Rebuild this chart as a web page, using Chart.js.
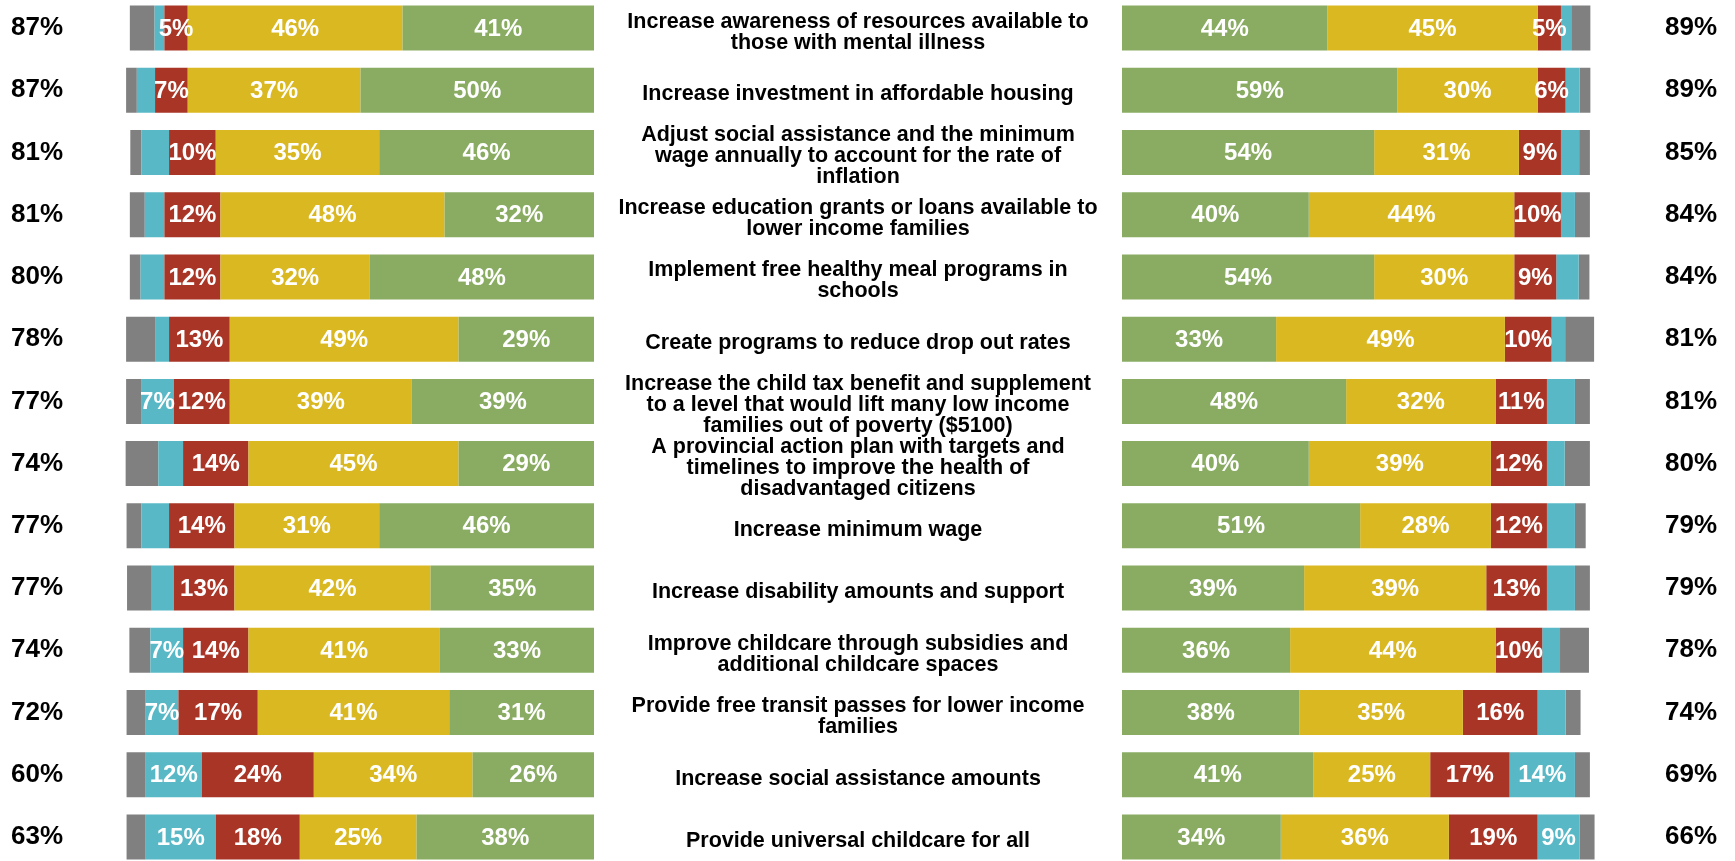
<!DOCTYPE html>
<html>
<head>
<meta charset="utf-8">
<title>Support for poverty reduction measures</title>
<script src="https://cdn.jsdelivr.net/npm/chart.js@4.4.1/dist/chart.umd.min.js"></script>
<style>
  html, body { margin: 0; padding: 0; background: #fff; overflow: hidden; }
  #wrap { position: relative; width: 1735px; height: 861px; }
  .panel { position: absolute; top: -3px; height: 871px; }
  #left-panel { left: 0; width: 600px; }
  #right-panel { left: 594px; width: 1141px; }
</style>
</head>
<body>
<div id="wrap">
  <div class="panel" id="left-panel"><canvas id="leftChart"></canvas></div>
  <div class="panel" id="right-panel"><canvas id="rightChart"></canvas></div>
</div>
<script>
const categories = [
  ["Increase awareness of resources available to", "those with mental illness"],
  ["Increase investment in affordable housing"],
  ["Adjust social assistance and the minimum", "wage annually to account for the rate of", "inflation"],
  ["Increase education grants or loans available to", "lower income families"],
  ["Implement free healthy meal programs in", "schools"],
  ["Create programs to reduce drop out rates"],
  ["Increase the child tax benefit and supplement", "to a level that would lift many low income", "families out of poverty ($5100)"],
  ["A provincial action plan with targets and", "timelines to improve the health of", "disadvantaged citizens"],
  ["Increase minimum wage"],
  ["Increase disability amounts and support"],
  ["Improve childcare through subsidies and", "additional childcare spaces"],
  ["Provide free transit passes for lower income", "families"],
  ["Increase social assistance amounts"],
  ["Provide universal childcare for all"]
];

// total support shown beside each bar
const leftTotals  = [87, 87, 81, 81, 80, 78, 77, 74, 77, 77, 74, 72, 60, 63];
const rightTotals = [89, 89, 85, 84, 84, 81, 81, 80, 79, 79, 78, 74, 69, 66];

// left panel, stacked outward from the centre
const leftStrong   = [41, 50, 46, 32, 48, 29, 39, 29, 46, 35, 33, 31, 26, 38];
const leftSomewhat = [46, 37, 35, 48, 32, 49, 39, 45, 31, 42, 41, 41, 34, 25];
const leftSomeOpp  = [5, 7, 10, 12, 12, 13, 12, 14, 14, 13, 14, 17, 24, 18];
const leftStrOpp   = [2.1, 3.9, 5.9, 4.2, 5.1, 3, 7, 5.3, 5.9, 4.7, 7, 7, 12, 15];
const leftDontKnow = [5.3, 2.3, 2.4, 3.2, 2.3, 6.2, 3.2, 7, 3.2, 5.3, 4.5, 4.1, 4.1, 4.1];

// right panel
const rightStrong   = [44, 59, 54, 40, 54, 33, 48, 40, 51, 39, 36, 38, 41, 34];
const rightSomewhat = [45, 30, 31, 44, 30, 49, 32, 39, 28, 39, 44, 35, 25, 36];
const rightSomeOpp  = [5, 6, 9, 10, 9, 10, 11, 12, 12, 13, 10, 16, 17, 19];
const rightStrOpp   = [2.2, 3, 3.9, 3, 4.8, 2.9, 6, 3.8, 6, 6, 3.8, 6, 14, 9];
const rightDontKnow = [4.1, 2.3, 2.3, 3.2, 2.3, 6.2, 3.2, 5.4, 2.3, 3.2, 6.2, 3.2, 3.2, 3.2];

const COLORS = {
  strong: "#89ac62",
  somewhat: "#dab822",
  someOpp: "#a93527",
  strOpp: "#59b8c6",
  dontKnow: "#808080"
};

const FONT = '"Liberation Sans", Arial, Helvetica, sans-serif';
Chart.defaults.font.family = FONT;
Chart.defaults.color = "#000";

function makeDatasets(strong, somewhat, someOpp, strOpp, dontKnow) {
  // showFrom: smallest value that gets a label inside its segment
  return [
    { label: "Strongly support", data: strong, backgroundColor: COLORS.strong, showFrom: 0 },
    { label: "Somewhat support", data: somewhat, backgroundColor: COLORS.somewhat, showFrom: 0 },
    { label: "Somewhat oppose", data: someOpp, backgroundColor: COLORS.someOpp, showFrom: 0 },
    { label: "Strongly oppose", data: strOpp, backgroundColor: COLORS.strOpp, showFrom: 7 },
    { label: "Don't know", data: dontKnow, backgroundColor: COLORS.dontKnow, showFrom: Infinity }
  ].map(ds => Object.assign(ds, {
    yAxisID: "y",
    barPercentage: 0.7235,
    categoryPercentage: 1,
    borderWidth: 0
  }));
}

// white percentage inside each segment
const segmentLabels = {
  id: "segmentLabels",
  afterDatasetsDraw(chart) {
    const ctx = chart.ctx;
    ctx.save();
    ctx.font = "bold 24px " + FONT;
    ctx.fillStyle = "#fff";
    ctx.textAlign = "center";
    ctx.textBaseline = "middle";
    chart.data.datasets.forEach((ds, di) => {
      chart.getDatasetMeta(di).data.forEach((bar, i) => {
        const v = ds.data[i];
        if (v < ds.showFrom) return;
        const p = bar.getCenterPoint();
        ctx.fillText(Math.round(v) + "%", p.x, p.y + 1);
      });
    });
    ctx.restore();
  }
};

// statement text in the gap between the two panels
const statementLabels = {
  id: "statementLabels",
  afterDraw(chart) {
    const ctx = chart.ctx;
    const yScale = chart.scales.y;
    const cx = chart.chartArea.left / 2;
    const lineH = 21;
    ctx.save();
    ctx.font = "bold 21.5px " + FONT;
    ctx.fillStyle = "#000";
    ctx.textAlign = "center";
    ctx.textBaseline = "middle";
    categories.forEach((lines, i) => {
      const cy = yScale.getPixelForValue(i);
      lines.forEach((line, k) => {
        ctx.fillText(line, cx, cy + (k - (lines.length - 1) / 2) * lineH + 4);
      });
    });
    ctx.restore();
  }
};

const valueAxis = reverse => ({
  type: "linear",
  stacked: true,
  reverse: reverse,
  min: 0,
  max: 102,
  display: false
});

// category axis carrying the totals; no extra room for half labels top and bottom
const totalsAxis = (position, totals, width) => ({
  type: "category",
  position: position,
  offset: true,
  stacked: true,
  grid: { display: false },
  border: { display: false },
  ticks: {
    autoSkip: false,
    crossAlign: "far",
    padding: 0,
    color: "#000",
    font: { size: 26, weight: "bold" },
    callback: (value, index) => totals[index] + "%"
  },
  afterFit: scale => {
    scale.width = width;
    scale.paddingTop = 0;
    scale.paddingBottom = 0;
  }
});

const baseOptions = {
  indexAxis: "y",
  responsive: true,
  maintainAspectRatio: false,
  animation: false,
  plugins: { legend: { display: false }, tooltip: { enabled: false } }
};

new Chart(document.getElementById("leftChart"), {
  type: "bar",
  data: {
    labels: categories,
    datasets: makeDatasets(leftStrong, leftSomewhat, leftSomeOpp, leftStrOpp, leftDontKnow)
  },
  options: Object.assign({}, baseOptions, {
    layout: { padding: { left: 11, right: 6, top: 0, bottom: 0 } },
    scales: {
      x: valueAxis(true),
      y: totalsAxis("left", leftTotals, 106.7)
    }
  }),
  plugins: [segmentLabels]
});

new Chart(document.getElementById("rightChart"), {
  type: "bar",
  data: {
    labels: categories,
    datasets: makeDatasets(rightStrong, rightSomewhat, rightSomeOpp, rightStrOpp, rightDontKnow)
  },
  options: Object.assign({}, baseOptions, {
    layout: { padding: { left: 528, right: 18, top: 0, bottom: 0 } },
    scales: {
      x: valueAxis(false),
      y: { type: "category", stacked: true, offset: true, display: false },
      y2: totalsAxis("right", rightTotals, 118.7)
    }
  }),
  plugins: [segmentLabels, statementLabels]
});
</script>
</body>
</html>
